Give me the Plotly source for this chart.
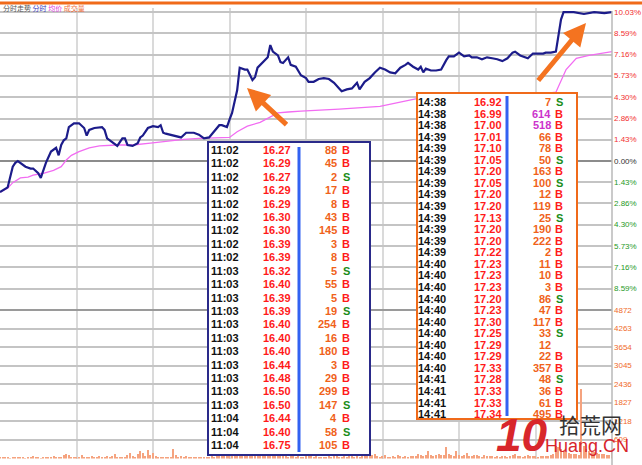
import plotly.graph_objects as go

# ---------------- data ----------------
prev_close = 15.76

price_minutes = [0, 3, 5, 6, 7, 9, 10, 12, 13, 15,
                 16, 18, 20, 22, 23, 24, 25, 26, 27, 29,
                 31, 33, 34, 35, 37, 40, 41, 42, 44, 46,
                 48, 49, 50, 52, 54, 55, 56, 58, 60, 62,
                 63, 64, 65, 68, 71, 73, 75, 76, 78, 80,
                 82, 84, 86, 87, 89, 90, 91, 93, 94, 96,
                 97, 99, 100, 101, 103, 105, 106, 107, 109, 110,
                 111, 113, 114, 116, 118, 120, 121, 123, 125, 127,
                 129, 131, 133, 134, 136, 138, 140, 141, 143, 145,
                 147, 149, 151, 153, 155, 157, 159, 160, 162, 164,
                 165, 166, 167, 169, 171, 173, 175, 176, 178, 180,
                 182, 184, 185, 187, 189, 191, 193, 195, 197, 199,
                 201, 202, 204, 206, 207, 209, 211, 213, 214, 216,
                 218, 219, 220, 221, 225, 229, 233, 237, 240]
prices = [15.43, 15.48, 15.70, 15.74, 15.76, 15.72, 15.70, 15.68, 15.68, 15.63,
          15.58, 15.74, 15.86, 15.90, 15.82, 15.93, 15.98, 16.00, 16.12, 16.16,
          16.16, 16.11, 16.03, 16.09, 16.11, 16.12, 16.09, 16.00, 15.96, 15.92,
          16.00, 16.00, 15.93, 15.92, 15.95, 16.01, 16.03, 16.11, 16.13, 16.12,
          16.14, 16.06, 16.05, 16.03, 16.01, 16.06, 16.06, 16.06, 16.04, 16.00,
          16.01, 16.07, 16.14, 16.14, 16.12, 16.20, 16.27, 16.51, 16.75, 16.73,
          16.73, 16.62, 16.65, 16.75, 16.81, 16.86, 16.99, 16.92, 16.88, 16.81,
          16.80, 16.86, 16.78, 16.76, 16.67, 16.64, 16.60, 16.60, 16.63, 16.64,
          16.63, 16.59, 16.53, 16.50, 16.52, 16.53, 16.59, 16.52, 16.60, 16.64,
          16.70, 16.75, 16.73, 16.70, 16.69, 16.75, 16.78, 16.80, 16.76, 16.73,
          16.76, 16.70, 16.74, 16.72, 16.72, 16.73, 16.83, 16.87, 16.87, 16.91,
          16.87, 16.88, 16.86, 16.86, 16.84, 16.86, 16.85, 16.84, 16.82, 16.85,
          16.91, 16.92, 16.88, 16.86, 16.85, 16.90, 16.90, 16.90, 16.91, 16.91,
          16.92, 17.08, 17.26, 17.34, 17.34, 17.32, 17.34, 17.33, 17.34]

avg_minutes = [0, 3, 5, 8, 11, 13, 17, 21, 24, 26,
               28, 31, 35, 39, 46, 52, 59, 65, 72, 78,
               85, 90, 93, 97, 102, 106, 109, 113, 118, 133,
               149, 163, 188, 212, 218, 222, 226, 231, 240]
avg_prices = [15.43, 15.47, 15.53, 15.58, 15.59, 15.61, 15.63, 15.66, 15.70, 15.77,
              15.82, 15.86, 15.90, 15.92, 15.93, 15.93, 15.95, 15.97, 15.99, 16.00,
              16.01, 16.01, 16.07, 16.13, 16.17, 16.23, 16.27, 16.28, 16.29, 16.31,
              16.34, 16.42, 16.45, 16.47, 16.49, 16.73, 16.85, 16.88, 16.92]

volumes = [40, 55, 20, 33, 15, 20, 25, 55, 20, 33,
           15, 20, 25, 87, 44, 20, 15, 33, 20, 55,
           25, 87, 30, 55, 25, 131, 153, 109, 40, 65,
           65, 65, 109, 30, 20, 40, 87, 55, 40, 87,
           50, 65, 76, 40, 87, 142, 30, 44, 65, 50,
           109, 174, 87, 60, 153, 240, 174, 87, 273, 131,
           196, 87, 50, 65, 55, 55, 40, 65, 327, 109,
           60, 87, 65, 87, 40, 50, 55, 55, 44, 30,
           55, 60, 45, 70, 50, 90, 110, 80, 70, 95,
           140, 420, 650, 780, 520, 380, 300, 250, 200, 180,
           160, 150, 130, 120, 140, 110, 170, 130, 100, 90,
           80, 90, 70, 60, 85, 75, 65, 70, 60, 55,
           90, 80, 70, 60, 75, 65, 55, 60, 50, 70,
           65, 80, 90, 60, 55, 70, 60, 75, 85, 60,
           70, 65, 80, 110, 95, 120, 100, 150, 90, 60,
           75, 120, 65, 50, 95, 60, 110, 70, 55, 80,
           60, 70, 90, 85, 140, 100, 80, 120, 260, 110,
           90, 100, 140, 120, 130, 390, 150, 100, 90, 240,
           110, 80, 130, 170, 90, 70, 100, 120, 80, 60,
           110, 90, 70, 85, 60, 80, 60, 70, 90, 60,
           80, 120, 150, 90, 70, 60, 80, 100, 70, 85,
           90, 60, 75, 80, 70, 90, 100, 150, 400, 380,
           300, 250, 200, 180, 160, 150, 140, 130, 2280, 400,
           300, 250, 200, 220, 180, 160, 140, 150, 130, 120,
           200]
vol_minutes = list(range(len(volumes)))

pct_tick_labels = ["10.03%", "8.59%", "7.16%", "5.73%", "4.30%", "2.86%", "1.43%",
                   "0.00%", "1.43%", "2.86%", "4.30%", "5.73%", "7.16%", "8.59%"]
pct_tick_values = [10.03, 8.59, 7.16, 5.73, 4.30, 2.86, 1.43,
                   0.0, -1.43, -2.86, -4.30, -5.73, -7.16, -8.59]
vol_tick_values = [4872, 4263, 3654, 3045, 2436, 1827, 1218, 609]
time_grid_minutes = [30, 60, 90, 120, 150, 180, 210]

left_times = ["11:02"] * 9 + ["11:03"] * 11 + ["11:04"] * 3
left_prices = ["16.27", "16.29", "16.27", "16.29", "16.29", "16.30", "16.30", "16.39", "16.39",
               "16.32", "16.40", "16.39", "16.39", "16.40", "16.40", "16.40", "16.44", "16.48",
               "16.50", "16.50", "16.44", "16.40", "16.75"]
left_vols = ["88", "45", "2", "17", "8", "43", "145", "3", "8", "5", "55", "5", "19", "254",
             "16", "180", "3", "29", "299", "147", "4", "58", "105"]
left_sides = ["B", "B", "S", "B", "B", "B", "B", "B", "B", "S", "B", "B", "S", "B",
              "B", "B", "B", "B", "B", "S", "B", "S", "B"]

right_times = ["14:38"] * 3 + ["14:39"] * 11 + ["14:40"] * 10 + ["14:41"] * 4
right_prices = ["16.92", "16.99", "17.00", "17.01", "17.10", "17.05", "17.20", "17.05", "17.20",
                "17.20", "17.13", "17.20", "17.20", "17.22", "17.23", "17.23", "17.23", "17.20",
                "17.23", "17.30", "17.25", "17.29", "17.29", "17.33", "17.28", "17.33", "17.33",
                "17.34"]
right_vols = ["7", "614", "518", "66", "78", "50", "163", "100", "12", "119", "25", "190", "222",
              "2", "11", "10", "3", "86", "47", "117", "33", "12", "22", "357", "48", "36", "61",
              "495"]
right_sides = ["S", "B", "B", "B", "B", "S", "B", "S", "B", "B", "S", "B", "B", "B", "B", "B",
               "B", "S", "B", "B", "S", "", "B", "B", "S", "B", "B", "B"]
right_big = [False, True, True] + [False] * 25

# ---------------- geometry helpers ----------------
W, H = 642, 465
PW = 612.0


def px(x):
    return x / PW


def py(y):
    return (H - y) / H


price_pct = [(p / prev_close - 1) * 100 for p in prices]
avg_pct = [(p / prev_close - 1) * 100 for p in avg_prices]

fig = go.Figure()
fig.add_trace(go.Bar(x=vol_minutes, y=volumes, xaxis="x2", yaxis="y2",
                     marker=dict(color="#f5a37f", line=dict(width=0)), width=0.42,
                     hoverinfo="skip"))
fig.add_trace(go.Scatter(x=avg_minutes, y=avg_pct, mode="lines",
                         line=dict(color="#f26cf2", width=1.3), hoverinfo="skip"))
fig.add_trace(go.Scatter(x=price_minutes, y=price_pct, mode="lines",
                         line=dict(color="#1c1c8a", width=2.2), hoverinfo="skip"))

fig.update_layout(
    width=W, height=H, margin=dict(l=0, r=30, t=0, b=0),
    paper_bgcolor="white", plot_bgcolor="white", showlegend=False, bargap=0,
    xaxis=dict(domain=[0, 1], range=[0, 240], anchor="y", tickvals=time_grid_minutes,
               showticklabels=False, ticks="", showgrid=True, gridcolor="#dadada",
               gridwidth=1.5, zeroline=False, showline=False),
    yaxis=dict(domain=[py(310), py(8)], range=[-10.03, 10.30], anchor="x",
               tickvals=pct_tick_values + [-10.03], showticklabels=False, ticks="",
               showgrid=True, gridcolor="#c4c4c4", gridwidth=2,
               zeroline=True, zerolinecolor="#8c8c8c", zerolinewidth=2, showline=False),
    xaxis2=dict(domain=[0, 1], range=[0, 240], anchor="y2", tickvals=time_grid_minutes,
                showticklabels=False, ticks="", showgrid=True, gridcolor="#dadada",
                gridwidth=1.5, zeroline=False, showline=False),
    yaxis2=dict(domain=[py(458.5), py(310)], range=[0, 4872], anchor="x2",
                tickvals=vol_tick_values, showticklabels=False, ticks="",
                showgrid=True, gridcolor="#c4c4c4", gridwidth=2, zeroline=False,
                showline=False),
)

shapes = []
# separator between price and volume panels
shapes.append(dict(type="line", xref="paper", yref="paper", x0=0, x1=1,
                   y0=py(310), y1=py(310), line=dict(color="#9a9a9a", width=2)))
# right axis line
shapes.append(dict(type="line", xref="paper", yref="paper", x0=1, x1=1,
                   y0=0, y1=py(11), line=dict(color="#b8b8b8", width=1.5)))
# top orange bar
shapes.append(dict(type="line", xref="paper", yref="paper", x0=0, x1=W / PW,
                   y0=py(3), y1=py(3), line=dict(color="#f06a1a", width=3)))
# tables
shapes.append(dict(type="rect", xref="paper", yref="paper", layer="above",
                   x0=px(208), x1=px(370), y0=py(455), y1=py(142),
                   fillcolor="white", line=dict(color="#2a2a8a", width=2)))
shapes.append(dict(type="line", xref="paper", yref="paper", layer="above",
                   x0=px(299), x1=px(299), y0=py(452), y1=py(147),
                   line=dict(color="#3262f2", width=3)))
shapes.append(dict(type="rect", xref="paper", yref="paper", layer="above",
                   x0=px(417), x1=px(577), y0=py(419), y1=py(93),
                   fillcolor="white", line=dict(color="#f06a1a", width=2)))
shapes.append(dict(type="line", xref="paper", yref="paper", layer="above",
                   x0=px(507), x1=px(507), y0=py(416), y1=py(96),
                   line=dict(color="#3262f2", width=3)))

ann = []
LBL_FONT = "Liberation Sans"
# right axis labels
for v, t in zip(pct_tick_values, pct_tick_labels):
    if v > 0:
        c = "#f23030"
    elif v < 0:
        c = "#1f9a1f"
    else:
        c = "#333333"
    ann.append(dict(xref="paper", yref="y", x=px(612.5), y=v, text=t, showarrow=False,
                    xanchor="left", yanchor="middle", borderpad=0,
                    font=dict(family=LBL_FONT, size=8, color=c)))
for v in vol_tick_values:
    ann.append(dict(xref="paper", yref="y2", x=px(612.5), y=v, text=str(v), showarrow=False,
                    xanchor="left", yanchor="middle", borderpad=0,
                    font=dict(family=LBL_FONT, size=8, color="#f06a2a")))

# header text
ann.append(dict(xref="paper", yref="paper", x=px(1), y=py(8), showarrow=False,
                xanchor="left", yanchor="middle",
                text=("<span style='color:#555'>分时走势</span> "
                      "<span style='color:#3a3ac0'>分时</span> "
                      "<span style='color:#e040e0'>均价</span> "
                      "<span style='color:#f07040'>成交量</span>"),
                font=dict(family="Noto Sans CJK SC", size=7)))

TFONT = "Liberation Sans"


def add_table(times, prs, vols, sides, y0, step, xt, xp, xv, xs, fs, big=None):
    for i in range(len(times)):
        yy = py(y0 + i * step)
        ann.append(dict(xref="paper", yref="paper", x=px(xt), y=yy, text="<b>%s</b>" % times[i],
                        showarrow=False, xanchor="left", yanchor="middle", borderpad=0,
                        font=dict(family=TFONT, size=fs, color="#111111")))
        ann.append(dict(xref="paper", yref="paper", x=px(xp), y=yy, text="<b>%s</b>" % prs[i],
                        showarrow=False, xanchor="right", yanchor="middle", borderpad=0,
                        font=dict(family=TFONT, size=fs, color="#ff1a1a")))
        vc = "#cc33cc" if (big and big[i]) else "#f0621a"
        ann.append(dict(xref="paper", yref="paper", x=px(xv), y=yy, text="<b>%s</b>" % vols[i],
                        showarrow=False, xanchor="right", yanchor="middle", borderpad=0,
                        font=dict(family=TFONT, size=fs, color=vc)))
        if sides[i]:
            sc = "#ff1a1a" if sides[i] == "B" else "#1a8c1a"
            ann.append(dict(xref="paper", yref="paper", x=px(xs), y=yy,
                            text="<b>%s</b>" % sides[i], showarrow=False, xanchor="center",
                            yanchor="middle", borderpad=0,
                            font=dict(family=TFONT, size=fs, color=sc)))


add_table(left_times, left_prices, left_vols, left_sides, 150, 13.41,
          210, 292, 338, 346, 11)
add_table(right_times, right_prices, right_vols, right_sides, 102, 11.56,
          417, 503, 552, 559, 11, right_big)

# arrows
for tip, tail in (((247, 88), (288, 126)), ((586, 23), (537, 82))):
    ann.append(dict(xref="paper", yref="paper", x=px(tip[0]), y=py(tip[1]), text="",
                    showarrow=True, ax=tail[0] - tip[0], ay=tail[1] - tip[1],
                    arrowcolor="#f47320", arrowwidth=5, arrowhead=2, arrowsize=0.9,
                    standoff=0, startstandoff=0))

# watermark
ann.append(dict(xref="paper", yref="paper", x=px(522), y=py(435), text="<b><i>10</i></b>",
                showarrow=False, xanchor="center", yanchor="middle",
                font=dict(family="Liberation Sans", size=46, color="#d8262b")))
ann.append(dict(xref="paper", yref="paper", x=px(590), y=py(424), text="拾荒网",
                showarrow=False, xanchor="center", yanchor="middle",
                font=dict(family="Noto Sans CJK SC", size=21, color="#333333")))
ann.append(dict(xref="paper", yref="paper", x=px(587), y=py(446), text="Huang.CN",
                showarrow=False, xanchor="center", yanchor="middle",
                font=dict(family="Liberation Sans", size=18, color="#d8262b")))

fig.update_layout(shapes=shapes, annotations=ann)
fig.write_html("out.html", config={"displayModeBar": False},
               post_script="document.body.style.margin='0';document.body.style.overflow='hidden';")
